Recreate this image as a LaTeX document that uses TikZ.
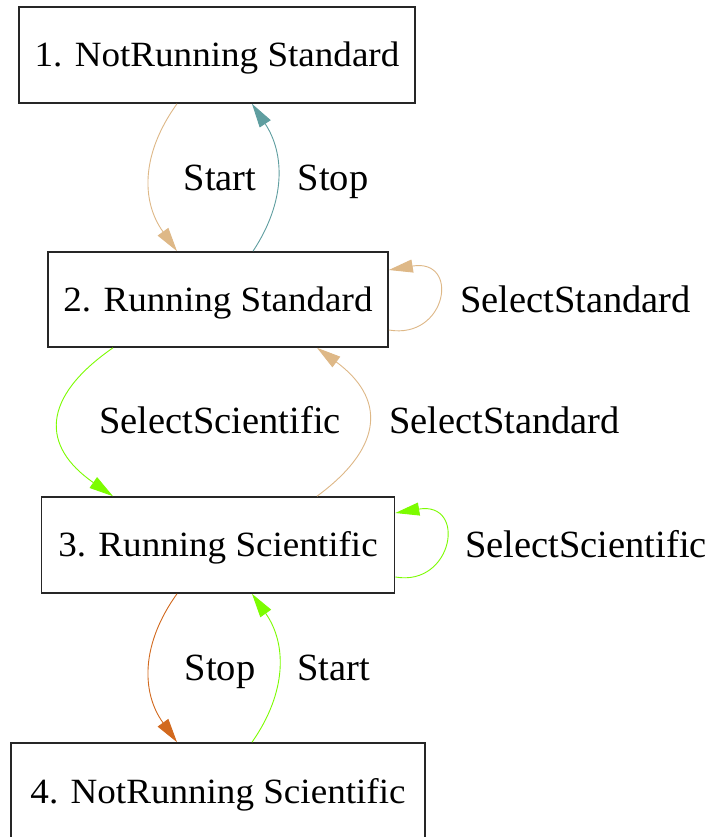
\documentclass[tikz,border=0pt]{standalone}
\usepackage{fontspec}
\setmainfont{Liberation Serif}
\newfontfamily\statefont{Liberation Serif}[FakeStretch=1.045]
\usetikzlibrary{arrows.meta}
\definecolor{burly}{HTML}{DEB887}
\definecolor{cadet}{HTML}{5F9EA0}
\definecolor{lawn}{HTML}{7CFC00}
\definecolor{choco}{HTML}{D2691E}
\begin{document}
\begin{tikzpicture}[x=1pt,y=-1pt,
  stbox/.style={draw=black!85, line width=1.6pt, inner sep=0pt,
    font=\statefont\fontsize{35.5}{40}\selectfont, text height=23pt, text depth=0pt},
  lbl/.style={font=\fontsize{38.5}{44}\selectfont, anchor=base, inner sep=0pt},
  trans/.style={line width=0.9pt, -{Triangle[length=24pt,width=13pt]}},
]
\fill[white] (0,0) rectangle (711,837);
\useasboundingbox (0,0) rectangle (711,837);

\node[stbox, minimum width=396pt, minimum height=96pt] (n1) at (217,55) {1. NotRunning Standard};
\node[stbox, minimum width=340pt, minimum height=95pt] (n2) at (218,299.5) {2. Running Standard};
\node[stbox, minimum width=353pt, minimum height=96pt] (n3) at (218,545) {3. Running Scientific};
\node[stbox, minimum width=414pt, minimum height=97pt] (n4) at (218,791.5) {4. NotRunning Scientific};

% 1 <-> 2
\draw[trans, burly] ([xshift=-40pt]n1.south) .. controls +(-36,50) and +(-36,-50) .. ([xshift=-41pt]n2.north);
\draw[trans, cadet] ([xshift=35pt]n2.north) .. controls +(33,-50) and +(33,50) .. ([xshift=35pt]n1.south);
% loop on 2
\draw[trans, burly] ([yshift=-30.5pt]n2.east) .. controls +(58,10) and +(72,-12) .. ([yshift=29.5pt]n2.east);
% 2 <-> 3
\draw[trans, lawn] ([xshift=-105pt]n2.south) .. controls +(-72,50) and +(-72,-50) .. ([xshift=-105pt]n3.north);
\draw[trans, burly] ([xshift=99pt]n3.north) .. controls +(68,-50) and +(68,50) .. ([xshift=99pt]n2.south);
% loop on 3
\draw[trans, lawn] ([yshift=-32pt]n3.east) .. controls +(58,10) and +(72,-12) .. ([yshift=32pt]n3.east);
% 3 <-> 4
\draw[trans, choco] ([xshift=-41pt]n3.south) .. controls +(-36,50) and +(-36,-50) .. ([xshift=-41pt]n4.north);
\draw[trans, lawn] ([xshift=34pt]n4.north) .. controls +(35,-50) and +(35,50) .. ([xshift=34pt]n3.south);

\node[lbl] (l1) at (220,190) {Start};
\node[lbl] (l2) at (333,190) {Stop};
\node[lbl] (l3) at (575.5,312) {SelectStandard};
\node[lbl] (l4) at (220,433) {SelectScientific};
\node[lbl] (l5) at (504.5,433) {SelectStandard};
\node[lbl] (l6) at (586,557) {SelectScientific};
\node[lbl] (l7) at (220,680) {Stop};
\node[lbl] (l8) at (333.5,680) {Start};
\end{tikzpicture}
\end{document}
